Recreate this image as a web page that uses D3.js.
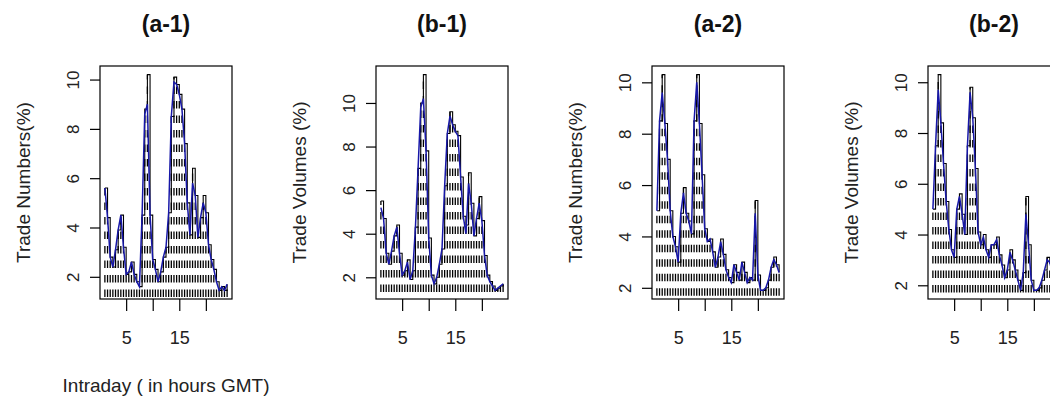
<!DOCTYPE html>
<html>
<head>
<meta charset="utf-8">
<script src="https://cdn.jsdelivr.net/npm/d3@7/dist/d3.min.js"></script>
<style>
  html, body { margin: 0; padding: 0; background: #ffffff; }
  svg { display: block; font-family: "Liberation Sans", Arial, Helvetica, sans-serif; }
</style>
</head>
<body>
<script>
// Intraday time points (hours GMT), half-hour resolution
const hours = [1, 1.5, 2, 2.5, 3, 3.5, 4, 4.5, 5, 5.5, 6, 6.5, 7, 7.5, 8, 8.5,
  9, 9.5, 10, 10.5, 11, 11.5, 12, 12.5, 13, 13.5, 14, 14.5, 15, 15.5, 16, 16.5,
  17, 17.5, 18, 18.5, 19, 19.5, 20, 20.5, 21, 21.5, 22, 22.5, 23, 23.5, 24];

// (a-1) share of trade numbers per interval (%)
const tradeNumbers1 = [5.6, 4.4, 2.8, 2.4, 3.1, 3.9, 4.5, 3.2, 2.1, 2.2, 2.6, 2.1,
  1.8, 1.6, 4.5, 8.8, 10.2, 4.5, 2.7, 2.3, 1.8, 2.2, 2.8, 3.2, 4.6, 8.5, 10.1, 9.8,
  9.4, 8.8, 7.4, 5.0, 3.7, 6.4, 5.3, 3.6, 4.4, 5.3, 4.6, 3.3, 2.7, 2.3, 1.8, 1.45,
  1.6, 1.45, 1.7];
// (a-1) blue profile line
const profileNumbers1 = [5.6, 4.4, 2.8, 2.4, 3.1, 3.9, 4.5, 3.2, 2.1, 2.2, 2.6, 2.1,
  1.8, 1.6, 4.5, 8.6, 9.0, 4.5, 2.7, 2.3, 1.8, 2.2, 2.8, 3.2, 4.6, 8.5, 9.9, 9.8,
  9.4, 8.8, 7.4, 5.0, 3.7, 5.8, 5.3, 3.6, 4.4, 5.0, 4.6, 3.3, 2.7, 2.3, 1.8, 1.45,
  1.6, 1.45, 1.7];

// (b-1) share of trade volumes per interval (%)
const tradeVolumes1 = [5.5, 4.7, 3.1, 2.6, 3.2, 3.9, 4.4, 3.1, 2.1, 2.3, 2.8, 1.9,
  2.3, 4.3, 7.0, 10.0, 11.3, 7.8, 3.8, 2.1, 1.7, 2.0, 2.6, 3.3, 6.2, 8.6, 9.6, 9.0,
  8.7, 8.5, 6.6, 4.8, 4.4, 6.8, 5.4, 3.9, 4.7, 5.7, 4.6, 3.0, 2.1, 1.8, 1.6, 1.4,
  1.5, 1.6, 1.7];
// (b-1) blue profile line
const profileVolumes1 = [5.2, 4.7, 3.1, 2.6, 3.2, 3.9, 4.3, 3.1, 2.1, 2.3, 2.7, 1.9,
  2.3, 4.3, 7.0, 9.8, 10.2, 7.8, 3.8, 2.1, 1.7, 2.0, 2.6, 3.3, 6.2, 8.6, 9.4, 9.0,
  8.7, 8.5, 6.6, 4.8, 4.0, 6.3, 5.4, 3.9, 4.7, 5.4, 4.6, 3.0, 2.1, 1.8, 1.6, 1.4,
  1.5, 1.6, 1.7];

// (a-2) share of trade numbers per interval (%)
const tradeNumbers2 = [5.0, 8.5, 10.3, 8.4, 7.0, 5.0, 4.0, 3.6, 3.0, 4.9, 5.9, 4.9,
  4.6, 4.1, 8.5, 10.3, 8.4, 6.4, 4.3, 3.8, 3.9, 3.4, 2.8, 3.2, 3.9, 3.3, 2.7, 2.4,
  2.2, 2.9, 2.6, 2.3, 3.0, 2.6, 2.2, 2.4, 2.3, 5.4, 2.5, 1.9, 1.9, 2.0, 2.3, 2.8,
  3.2, 2.9, 2.6];
// (a-2) blue profile line
const profileNumbers2 = [5.0, 8.5, 9.6, 8.4, 7.0, 5.0, 4.0, 3.6, 3.0, 4.9, 5.7, 4.9,
  4.6, 4.1, 8.5, 10.0, 8.4, 6.4, 4.3, 3.8, 3.9, 3.4, 2.8, 3.2, 3.8, 3.3, 2.7, 2.4,
  2.2, 2.9, 2.6, 2.3, 3.0, 2.6, 2.2, 2.4, 2.3, 4.9, 2.5, 1.9, 1.9, 2.0, 2.3, 2.8,
  3.1, 2.9, 2.6];

// (b-2) share of trade volumes per interval (%)
const tradeVolumes2 = [5.0, 7.5, 10.3, 8.4, 6.8, 5.3, 4.2, 3.4, 3.1, 5.0, 5.6, 4.8,
  4.0, 7.5, 9.8, 8.6, 6.6, 4.1, 3.6, 4.0, 3.4, 3.1, 3.6, 3.6, 3.9, 3.2, 2.8, 2.3,
  2.6, 3.4, 3.0, 2.6, 2.2, 1.8, 2.5, 5.5, 3.6, 2.2, 1.8, 1.8, 1.9, 2.2, 2.6, 3.1,
  2.9, 2.5, 2.2];
// (b-2) blue profile line
const profileVolumes2 = [5.0, 7.5, 9.7, 8.4, 6.8, 5.3, 4.2, 3.4, 3.1, 5.0, 5.5, 4.8,
  4.0, 7.5, 9.6, 8.6, 6.6, 4.1, 3.6, 3.9, 3.4, 3.1, 3.6, 3.6, 3.8, 3.2, 2.8, 2.3,
  2.6, 3.3, 3.0, 2.6, 2.2, 1.8, 2.5, 4.8, 3.6, 2.2, 1.8, 1.8, 1.9, 2.2, 2.6, 3.0,
  2.9, 2.5, 2.2];

const panelTitles = ["(a-1)", "(b-1)", "(a-2)", "(b-2)"];
const panelYLabels = ["Trade Numbers(%)", "Trade Volumes (%)", "Trade Numbers(%)", "Trade Volumes (%)"];
const xTicks = [5, 10, 15, 20];
const xTickLabels = ["5", "", "15", ""];
const yTicks = [2, 4, 6, 8, 10];
const xAxisTitle = "Intraday ( in hours GMT)";

const panelSeries = [tradeNumbers1, tradeVolumes1, tradeNumbers2, tradeVolumes2];
const panelProfiles = [profileNumbers1, profileVolumes1, profileNumbers2, profileVolumes2];

// layout
const width = 1050, height = 403;
const panelStep = 276, firstLeft = 100;
const plotW = 132, plotTop = 66, plotBottom = 299;
const plotH = plotBottom - plotTop;
const lineBlue = "#1717a8";

const svg = d3.select("body").append("svg")
  .attr("width", width)
  .attr("height", height);

// pad a data range by 4% on each side, as the base graphics default does
function padded(lo, hi) {
  const r = hi - lo;
  return [lo - 0.04 * r, hi + 0.04 * r];
}

panelSeries.forEach((values, i) => {
  const left = firstLeft + i * panelStep;
  const g = svg.append("g").attr("transform", `translate(${left},${plotTop})`);
  const profile = panelProfiles[i];

  const x = d3.scaleLinear()
    .domain(padded(d3.min(hours), d3.max(hours)))
    .range([0, plotW]);
  const y = d3.scaleLinear()
    .domain(padded(d3.min(values), d3.max(values)))
    .range([plotH, 0]);

  const clipId = `clip-${i}`;
  g.append("clipPath").attr("id", clipId)
    .append("rect").attr("x", 0).attr("y", 0).attr("width", plotW).attr("height", plotH);

  const points = hours.map((h, k) => ({ h, v: values[k], p: profile[k] }));
  const plot = g.append("g").attr("clip-path", `url(#${clipId})`);

  // dashed histogram-style spikes rising from zero
  plot.selectAll("line.spike")
    .data(points)
    .join("line")
    .attr("class", "spike")
    .attr("x1", d => x(d.h))
    .attr("x2", d => x(d.h))
    .attr("y1", y(0))
    .attr("y2", d => y(d.v))
    .attr("stroke", "#000")
    .attr("stroke-width", 1.3)
    .attr("stroke-dasharray", "7.5,7");

  // black step outline
  plot.append("path")
    .datum(points)
    .attr("fill", "none")
    .attr("stroke", "#000")
    .attr("stroke-width", 1.1)
    .attr("d", d3.line().x(d => x(d.h)).y(d => y(d.v)).curve(d3.curveStepAfter));

  // blue profile line
  plot.append("path")
    .datum(points)
    .attr("fill", "none")
    .attr("stroke", lineBlue)
    .attr("stroke-width", 1.5)
    .attr("d", d3.line().x(d => x(d.h)).y(d => y(d.p)));

  // frame
  g.append("rect")
    .attr("x", 0).attr("y", 0)
    .attr("width", plotW).attr("height", plotH)
    .attr("fill", "none")
    .attr("stroke", "#000")
    .attr("stroke-width", 1.2);

  // x axis
  const xAxis = g.append("g")
    .attr("transform", `translate(0,${plotH})`)
    .call(d3.axisBottom(x).tickValues(xTicks).tickSize(12)
      .tickFormat((d, k) => xTickLabels[k]));
  xAxis.select(".domain").remove();
  xAxis.selectAll(".tick line").attr("stroke", "#000").attr("stroke-width", 1.2);
  xAxis.selectAll(".tick text")
    .attr("y", 39)
    .attr("dy", "0.35em")
    .attr("fill", "#222")
    .style("font-size", "18px")
    .style("font-family", "Liberation Sans, Arial, sans-serif");

  // y axis with labels turned parallel to the axis
  const yAxis = g.append("g")
    .call(d3.axisLeft(y).tickValues(yTicks).tickSize(10));
  yAxis.select(".domain").remove();
  yAxis.selectAll(".tick line").attr("stroke", "#000").attr("stroke-width", 1.2);
  yAxis.selectAll(".tick text")
    .attr("x", null)
    .attr("dy", "0.35em")
    .attr("text-anchor", "middle")
    .attr("transform", "translate(-27,0) rotate(-90)")
    .attr("fill", "#222")
    .style("font-size", "17px")
    .style("font-family", "Liberation Sans, Arial, sans-serif");

  // y axis title
  g.append("text")
    .attr("transform", `translate(-77,${plotH / 2}) rotate(-90)`)
    .attr("dy", "0.35em")
    .attr("text-anchor", "middle")
    .attr("fill", "#222")
    .style("font-size", "19px")
    .text(panelYLabels[i]);

  // panel title
  g.append("text")
    .attr("x", plotW / 2)
    .attr("y", 32 - plotTop)
    .attr("text-anchor", "middle")
    .attr("fill", "#111")
    .style("font-size", "23px")
    .style("font-weight", "bold")
    .text(panelTitles[i]);

  // x axis title on the first panel only
  if (i === 0) {
    g.append("text")
      .attr("x", plotW / 2)
      .attr("y", 392 - plotTop)
      .attr("text-anchor", "middle")
      .attr("fill", "#222")
      .style("font-size", "19px")
      .text(xAxisTitle);
  }
});
</script>
</body>
</html>
